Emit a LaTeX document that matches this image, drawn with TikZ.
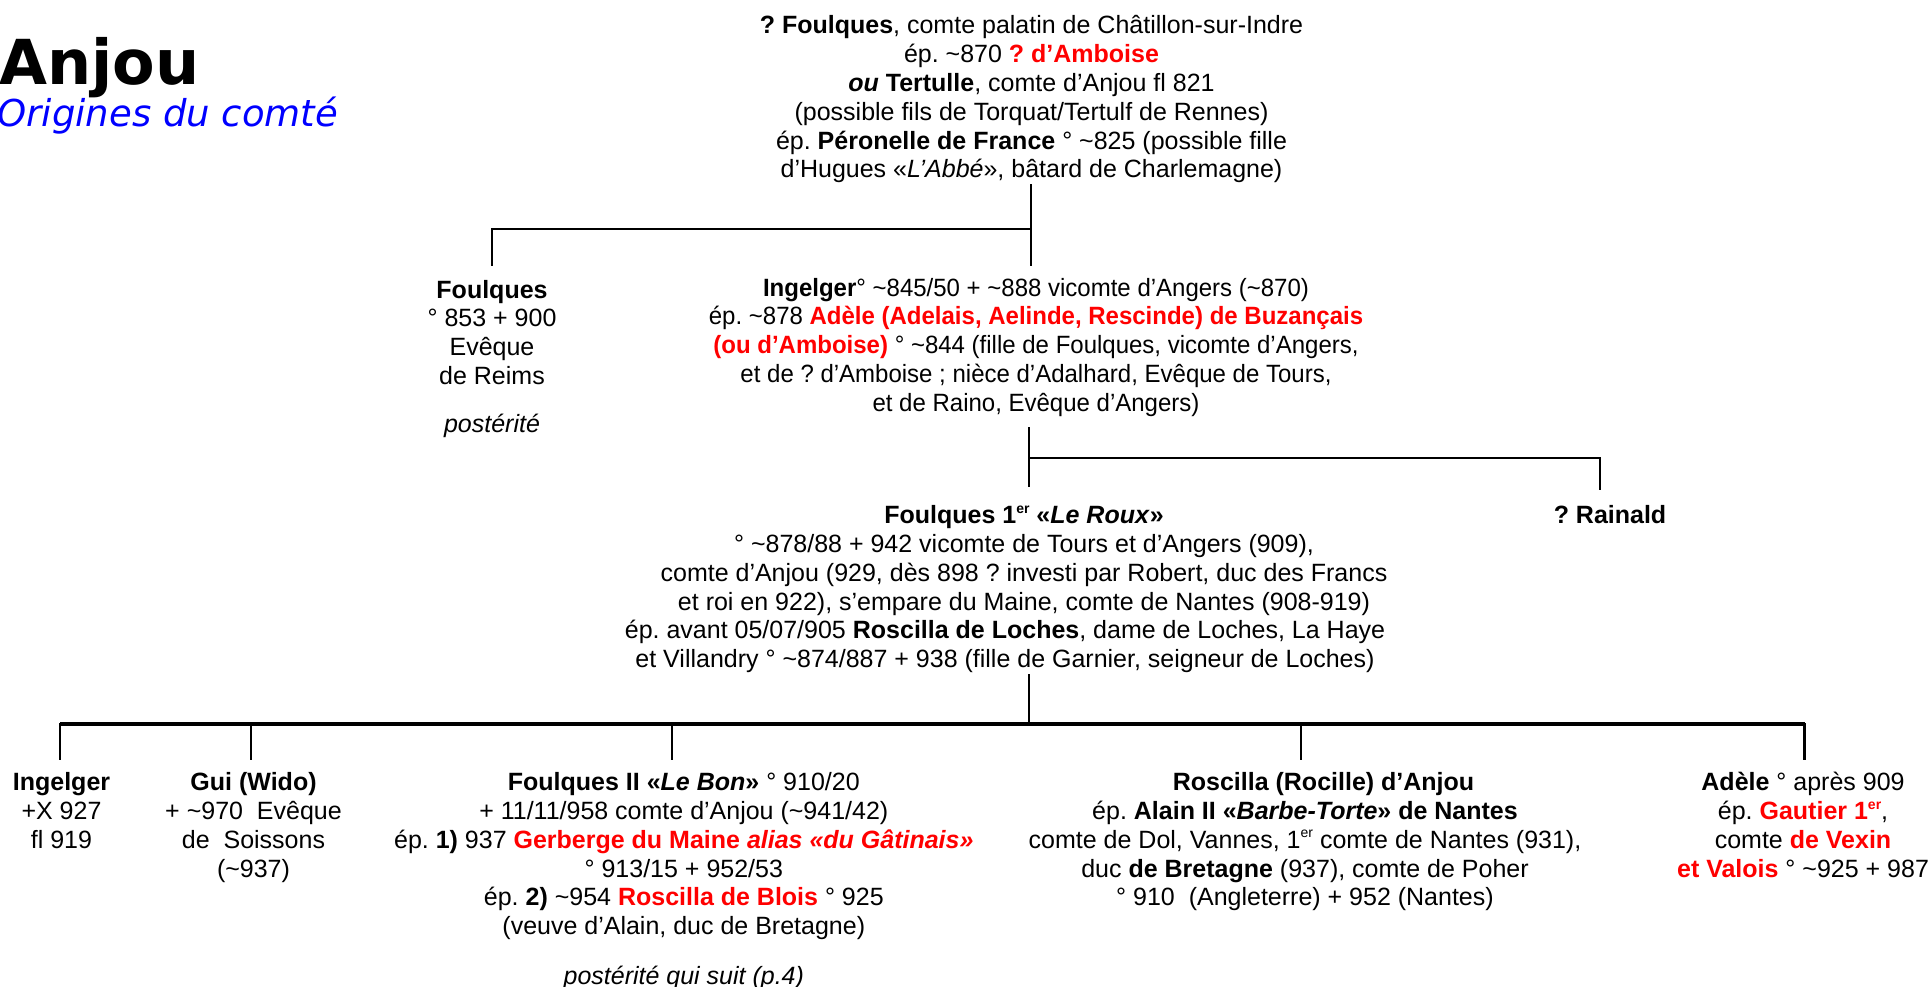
\documentclass[tikz,border=0pt]{standalone}
\usepackage{fontspec}
\setmainfont{Liberation Sans}
\newfontfamily\titlefont{DejaVu Sans}
\newfontfamily\narrowfont[FakeStretch=0.96]{Liberation Sans}
\newcommand\tld{\textasciitilde}
\newcommand\st{\rule{0pt}{12pt}}
\newcommand\rd[1]{\textcolor{red}{\textbf{#1}}}
\newcommand\er{\raisebox{0.42em}{\fontsize{7}{8}\selectfont er}}
\frenchspacing
\begin{document}
\frenchspacing
\begin{tikzpicture}[x=0.5pt,y=-0.5pt,
  person/.style={align=center, inner sep=0pt, anchor=north, font=\frenchspacing\fontsize{12.5}{14.4}\selectfont},
  link/.style={line width=1.25pt, line cap=rect},
  bar/.style={line width=1.9pt}]
\useasboundingbox (0,0) rectangle (1930,986);
% title
\node[anchor=base west, inner sep=0pt, font=\titlefont\bfseries\fontsize{31}{36}\selectfont] (title) at (-1,84) {Anjou};
\node[anchor=base west, inner sep=0pt, text=blue, font=\titlefont\itshape\fontsize{18.5}{22}\selectfont] (subtitle) at (-3,126.5) {Origines du comté};
% people
\node[person] (top) at (1031.5,9.4) {\st\textbf{? Foulques}, comte palatin de Châtillon-sur-Indre\\
ép. \tld870 \rd{? d’Amboise}\\
\textbf{\textit{ou} Tertulle}, comte d’Anjou fl 821\\
(possible fils de Torquat/Tertulf de Rennes)\\
ép. \textbf{Péronelle de France} ° \tld825 (possible fille\\
d’Hugues «\textit{L’Abbé}», bâtard de Charlemagne)};
\node[person] (foulq) at (492,273.7) {\st\textbf{Foulques}\\
° 853 + 900\\
Evêque\\
de Reims\\[9.5pt]
\textit{postérité}};
\node[person, font=\narrowfont\frenchspacing\fontsize{12.5}{14.4}\selectfont] (ingel) at (1036,271.7) {\st\textbf{Ingelger}° \tld845/50 + \tld888 vicomte d’Angers (\tld870)\\
ép. \tld878 \rd{Adèle (Adelais, Aelinde, Rescinde) de Buzançais}\\
\rd{(ou d’Amboise)} ° \tld844 (fille de Foulques, vicomte d’Angers,\\
et de ? d’Amboise ; nièce d’Adalhard, Evêque de Tours,\\
et de Raino, Evêque d’Angers)};
\node[person] (roux) at (1024,499.2) {\st\textbf{Foulques 1\er{} «\textit{Le Roux}»}\\
° \tld878/88 + 942 vicomte de Tours et d’Angers (909),\\
comte d’Anjou (929, dès 898 ? investi par Robert, duc des Francs\\
et roi en 922), s’empare du Maine, comte de Nantes (908-919)\\
ép. avant 05/07/905 \textbf{Roscilla de Loches}, dame de Loches, La Haye\rule{19pt}{0pt}\\
et Villandry ° \tld874/887 + 938 (fille de Garnier, seigneur de Loches)\rule{19pt}{0pt}};
\node[person] (rain) at (1610,499.2) {\st\textbf{? Rainald}};
\node[person] (ing2) at (61.5,766.3) {\st\textbf{Ingelger}\\
+X 927\\
fl 919};
\node[person] (gui) at (253.5,766.3) {\st\textbf{Gui (Wido)}\\
+ \tld970\ \ Evêque\\
de\ \ Soissons\\
(\tld937)};
\node[person] (fii) at (683.8,766.3) {\st\textbf{Foulques II «\textit{Le Bon}»} ° 910/20\\
+ 11/11/958 comte d’Anjou (\tld941/42)\\
ép. \textbf{1)} 937 \rd{Gerberge du Maine \textit{alias «du Gâtinais»}}\\
° 913/15 + 952/53\\
ép. \textbf{2)} \tld954 \rd{Roscilla de Blois} ° 925\\
(veuve d’Alain, duc de Bretagne)\\[10.5pt]
\textit{postérité qui suit (p.4)}};
\node[person] (rosc) at (1305,766.3) {\st\rule{18.5pt}{0pt}\textbf{Roscilla (Rocille) d’Anjou}\\
ép. \textbf{Alain II «\textit{Barbe-Torte}» de Nantes}\\
comte de Dol, Vannes, 1\er{} comte de Nantes (931),\\
duc \textbf{de Bretagne} (937), comte de Poher\\
° 910\ \ (Angleterre) + 952 (Nantes)};
\node[person] (adele) at (1803,766.3) {\st\textbf{Adèle} ° après 909\\
ép. \rd{Gautier 1\er},\\
comte \rd{de Vexin}\\
\rd{et Valois} ° \tld925 + 987};
% junction coordinates
\coordinate (a0) at (1031,185);
\coordinate (a1) at (1031,229);
\coordinate (a2) at (1031,265);
\coordinate (a3) at (492,229);
\coordinate (a4) at (492,265);
\coordinate (b0) at (1029,428);
\coordinate (b1) at (1029,458);
\coordinate (b2) at (1029,486);
\coordinate (b3) at (1600,458);
\coordinate (b4) at (1600,489);
\coordinate (c0) at (1029,675);
\coordinate (c1) at (1029,724);
\coordinate (cL) at (60,724);
\coordinate (cR) at (1804.5,724);
\coordinate (d1) at (60,759);
\coordinate (d2) at (251,759);
\coordinate (d3) at (672,759);
\coordinate (d4) at (1301,759);
\coordinate (d5) at (1804.5,759);
% connectors
\draw[link] (a0) -- (a2);
\draw[link] (a1) -- (a3) -- (a4);
\draw[link] (b0) -- (b2);
\draw[link] (b1) -- (b3) -- (b4);
\draw[link] (c0) -- (c1);
\draw[bar] (cL) -- (cR);
\draw[link] (cL) -- (d1);
\draw[link] (d2 |- cL) -- (d2);
\draw[link] (d3 |- cL) -- (d3);
\draw[link] (d4 |- cL) -- (d4);
\draw[link] (cR) -- (d5);
\end{tikzpicture}
\end{document}
